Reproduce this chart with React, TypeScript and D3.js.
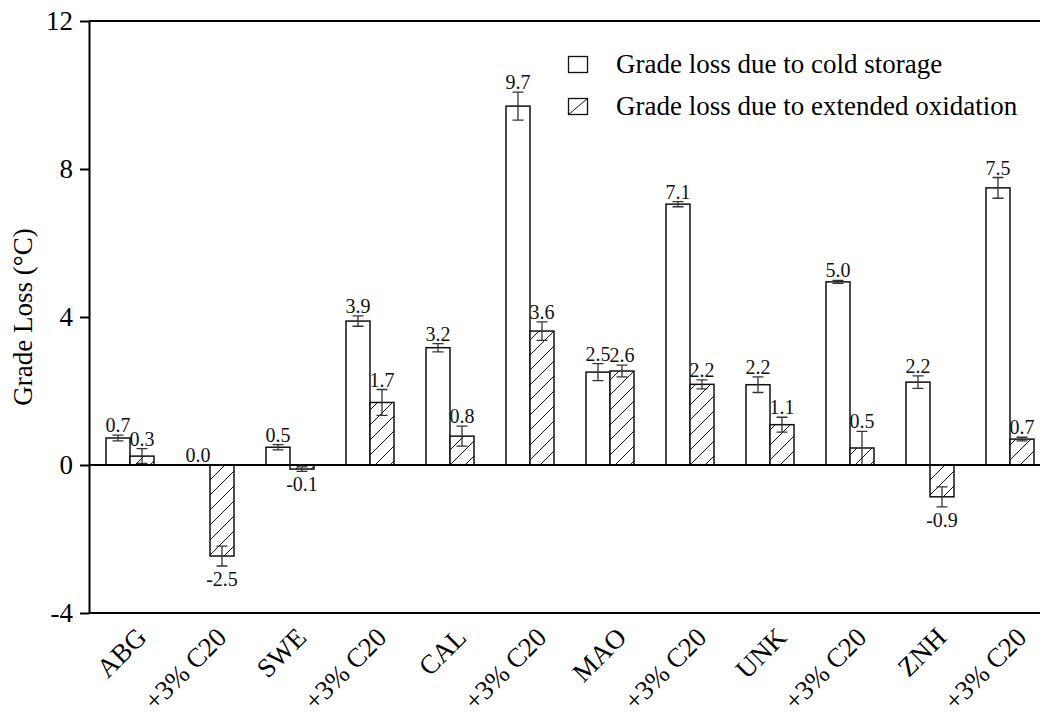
import { useEffect, useRef } from "react";
import * as d3 from "d3";

const categories = ["ABG", "+3% C20", "SWE", "+3% C20", "CAL", "+3% C20", "MAO", "+3% C20", "UNK", "+3% C20", "ZNH", "+3% C20"];
const coldValues = [0.73, 0.0, 0.48, 3.89, 3.17, 9.7, 2.51, 7.05, 2.17, 4.95, 2.24, 7.49];
const coldErrors = [0.08, 0, 0.07, 0.14, 0.11, 0.38, 0.23, 0.07, 0.21, 0.04, 0.17, 0.28];
const coldLabels = ["0.7", "0.0", "0.5", "3.9", "3.2", "9.7", "2.5", "7.1", "2.2", "5.0", "2.2", "7.5"];
const oxValues = [0.24, -2.46, -0.11, 1.69, 0.78, 3.62, 2.54, 2.18, 1.09, 0.46, -0.86, 0.7];
const oxErrors = [0.2, 0.27, 0.06, 0.35, 0.27, 0.25, 0.16, 0.12, 0.2, 0.45, 0.27, 0.05];
const oxLabels = ["0.3", "-2.5", "-0.1", "1.7", "0.8", "3.6", "2.6", "2.2", "1.1", "0.5", "-0.9", "0.7"];
const yTicks = [-4, 0, 4, 8, 12];
const legendLabels = ["Grade loss due to cold storage", "Grade loss due to extended oxidation"];

const FONT = "'Liberation Serif', 'Times New Roman', serif";

export default function App() {
  const svgRef = useRef<SVGSVGElement | null>(null);

  useEffect(() => {
    if (!svgRef.current) return;
    const svg = d3.select(svgRef.current);
    svg.selectAll("*").remove();

    const width = 1040;
    const left = 89;

    const y = d3.scaleLinear().domain([-4, 12]).range([613, 21]);
    const x = d3
      .scaleBand<string>()
      .domain(categories.map((_, i) => String(i)))
      .range([90, 1050])
      .paddingInner(0.4)
      .paddingOuter(0.2);
    const sub = d3.scaleBand<string>().domain(["cold", "ox"]).range([0, x.bandwidth()]);

    // hatch pattern
    const defs = svg.append("defs");
    const pat = defs
      .append("pattern")
      .attr("id", "hatch")
      .attr("patternUnits", "userSpaceOnUse")
      .attr("width", 15)
      .attr("height", 15);
    pat.append("rect").attr("width", 15).attr("height", 15).attr("fill", "white");
    pat
      .append("path")
      .attr("d", "M0,15 L15,0 M-3.75,3.75 L3.75,-3.75 M11.25,18.75 L18.75,11.25")
      .attr("stroke", "#111")
      .attr("stroke-width", 1);

    const series = [
      { key: "cold", values: coldValues, errors: coldErrors, labels: coldLabels, fill: "white" },
      { key: "ox", values: oxValues, errors: oxErrors, labels: oxLabels, fill: "url(#hatch)" },
    ];

    const g = svg.append("g");

    series.forEach((s) => {
      s.values.forEach((v, i) => {
        const bx = (x(String(i)) ?? 0) + (sub(s.key) ?? 0);
        const bw = sub.bandwidth();
        const cx = bx + bw / 2;
        if (v !== 0) {
          g.append("rect")
            .attr("x", bx)
            .attr("y", y(Math.max(0, v)))
            .attr("width", bw)
            .attr("height", Math.abs(y(v) - y(0)))
            .attr("fill", s.fill)
            .attr("stroke", "#111")
            .attr("stroke-width", 1.5);
        }
        const e = s.errors[i];
        if (e > 0) {
          const cap = 5.5;
          g.append("path")
            .attr(
              "d",
              `M${cx},${y(v + e)}V${y(v - e)}M${cx - cap},${y(v + e)}H${cx + cap}M${cx - cap},${y(v - e)}H${cx + cap}`
            )
            .attr("stroke", "#333")
            .attr("stroke-width", 1.3)
            .attr("fill", "none");
        }
        const ly = v >= 0 ? y(v + e) - 3 : y(v - e) + 20;
        g.append("text")
          .attr("x", cx)
          .attr("y", ly)
          .attr("text-anchor", "middle")
          .attr("font-family", FONT)
          .attr("font-size", 20)
          .attr("fill", "#111")
          .text(s.labels[i]);
      });
    });

    // zero line, top and bottom lines
    svg.append("line").attr("x1", left).attr("x2", width).attr("y1", y(0)).attr("y2", y(0)).attr("stroke", "#000").attr("stroke-width", 2);
    svg.append("line").attr("x1", left).attr("x2", width).attr("y1", y(12)).attr("y2", y(12)).attr("stroke", "#000").attr("stroke-width", 2);
    svg.append("line").attr("x1", left).attr("x2", width).attr("y1", y(-4)).attr("y2", y(-4)).attr("stroke", "#000").attr("stroke-width", 2);

    // y axis
    const yAxis = svg
      .append("g")
      .attr("transform", `translate(${left},0)`)
      .call(
        d3
          .axisLeft(y)
          .tickValues(yTicks)
          .tickSize(9)
          .tickSizeOuter(0)
          .tickPadding(7)
          .tickFormat((d) => String(d))
      );
    yAxis.select(".domain").attr("stroke", "#000").attr("stroke-width", 2);
    yAxis.selectAll(".tick line").attr("stroke", "#000").attr("stroke-width", 2);
    yAxis.selectAll(".tick text").attr("font-family", FONT).attr("font-size", 27).attr("fill", "#000");

    svg
      .append("text")
      .attr("transform", `translate(32,317) rotate(-90)`)
      .attr("text-anchor", "middle")
      .attr("font-family", FONT)
      .attr("font-size", 27)
      .text("Grade Loss (°C)");

    // x labels
    categories.forEach((c, i) => {
      const cx = (x(String(i)) ?? 0) + x.bandwidth() / 2;
      svg
        .append("text")
        .attr("transform", `translate(${cx + 18},639) rotate(-45)`)
        .attr("text-anchor", "end")
        .attr("font-family", FONT)
        .attr("font-size", 27)
        .text(c);
    });

    // legend
    const lg = svg.append("g");
    legendLabels.forEach((lab, i) => {
      const ty = 73 + i * 42;
      lg.append("rect")
        .attr("x", 568.5)
        .attr("y", ty - 16.5)
        .attr("width", 19)
        .attr("height", 16)
        .attr("fill", "white")
        .attr("stroke", "#111")
        .attr("stroke-width", 1.3);
      if (i === 1) {
        lg.append("line")
          .attr("x1", 568.5)
          .attr("y1", ty - 0.5)
          .attr("x2", 587.5)
          .attr("y2", ty - 16.5)
          .attr("stroke", "#111")
          .attr("stroke-width", 1);
      }
      lg.append("text")
        .attr("x", 616)
        .attr("y", ty)
        .attr("font-family", FONT)
        .attr("font-size", 27)
        .text(lab);
    });
  }, []);

  return (
    <svg
      ref={svgRef}
      width={1040}
      height={715}
      style={{ position: "absolute", left: 0, top: 0, background: "white" }}
    />
  );
}
